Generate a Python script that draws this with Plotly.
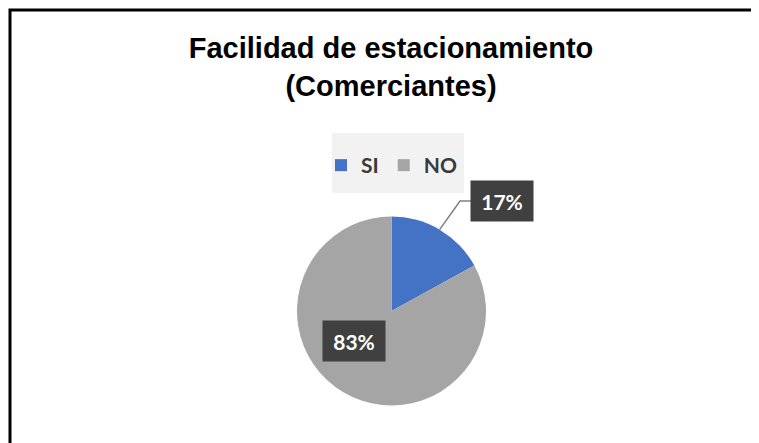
import math
import plotly.graph_objs as go

# data
labels = ['SI', 'NO']
values = [17, 83]
colors = ['#4472C4', '#A5A5A5']

# page has an 8px body margin, figure fills the rest of the window
OFF = 8
W, H = 759 - OFF, 443 - OFF


def px(x):
    return (x - OFF) / W


def py(y):
    return 1 - (y - OFF) / H


# pie geometry (page pixels)
cx, cy, r = 391.5, 311, 94.5

fig = go.Figure()
fig.add_trace(go.Pie(labels=labels, values=values, marker=dict(colors=colors),
                     sort=False, direction='clockwise', rotation=0,
                     textinfo='none', hoverinfo='label+percent',
                     domain=dict(x=[px(cx - r), px(cx + r)],
                                 y=[py(cy + r), py(cy - r)])))

total = sum(values)
pct = [round(v / total * 100) for v in values]

# leader line from the middle of the first slice to its label
mid = values[0] / total * math.pi
x0 = cx + r * math.sin(mid)
y0 = cy - r * math.cos(mid)
lab1 = (502, 201)   # label box centres
lab2 = (354, 341)
fig.add_shape(type='path', xref='paper', yref='paper',
              path='M{:.4f},{:.4f} L{:.4f},{:.4f} L{:.4f},{:.4f}'.format(
                  px(x0), py(y0), px(lab1[0] - 42), py(lab1[1]),
                  px(lab1[0] - 31), py(lab1[1])),
              line=dict(color='#7F7F7F', width=1.5))

for (lx, ly), p in zip([lab1, lab2], pct):
    fig.add_annotation(x=px(lx), y=py(ly), xref='paper', yref='paper',
                       xanchor='center', yanchor='middle',
                       text='<b>{}%</b>'.format(p), showarrow=False,
                       font=dict(family='Lato', size=21, color='white'),
                       bgcolor='#404040', width=58, height=36, borderpad=2)

# legend background
fig.add_shape(type='rect', xref='paper', yref='paper', layer='below',
              x0=px(332), x1=px(464), y0=py(193), y1=py(133),
              fillcolor='#F2F2F2', line=dict(width=0))

# outer frame
fig.add_shape(type='rect', xref='paper', yref='paper',
              x0=px(10), x1=1.02, y0=-0.02, y1=py(10),
              line=dict(color='black', width=3))

fig.update_layout(
    width=W, height=H, margin=dict(l=0, r=0, t=0, b=0),
    paper_bgcolor='white', plot_bgcolor='white',
    title=dict(text='<b>Facilidad de estacionamiento<br>(Comerciantes)</b>',
               x=px(391), xanchor='center', y=py(58), yanchor='middle',
               font=dict(family='Liberation Sans', size=29, color='black')),
    legend=dict(orientation='h', x=px(321), xanchor='left', y=py(145), yanchor='top',
                bgcolor='rgba(0,0,0,0)',
                font=dict(family='Lato', size=21, color='#3A3A3A', weight='bold'),
                itemwidth=30),
)

fig.write_html("out.html")
